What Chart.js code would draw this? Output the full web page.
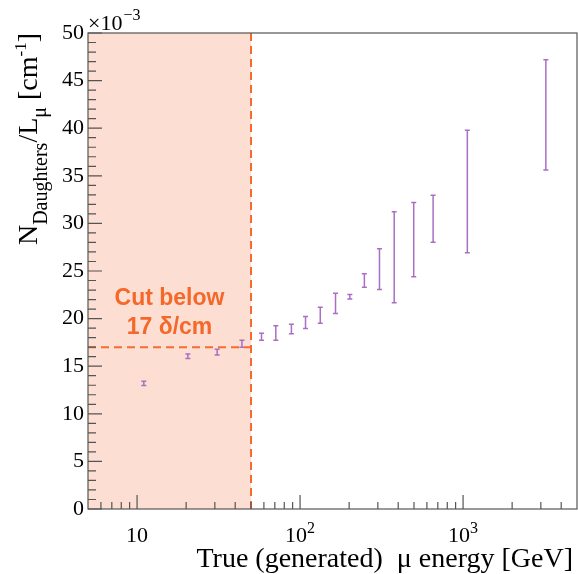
<!DOCTYPE html>
<html>
<head>
<meta charset="utf-8">
<script src="https://cdn.jsdelivr.net/npm/chart.js@4/dist/chart.umd.min.js"></script>
<style>
  body { margin: 0; background: #fff; }
  canvas { display: block; }
</style>
</head>
<body>
<canvas id="daughtersChart" width="578" height="574"></canvas>
<script>
// muon energy (GeV) of each bin, measured rate (x1e-3 per cm) and its error
const energies = [11, 20.5, 31, 44, 58, 71, 88.5, 108, 133, 165, 202, 248, 307, 378, 498, 655, 1062, 3220];
const rates    = [13.2, 16.05, 16.47, 17.35, 18.09, 18.49, 18.9, 19.6, 20.35, 21.6, 22.3, 24.0, 25.2, 26.45, 28.3, 30.5, 33.35, 41.4];
const rateErrs = [0.22, 0.23, 0.3, 0.37, 0.37, 0.77, 0.5, 0.63, 0.84, 1.07, 0.23, 0.7, 2.15, 4.78, 3.9, 2.47, 6.43, 5.8];

// cut region
const cutEnergy = 50;
const cutRate = 17;

// axis ranges and tick labels
const xMin = 5, xMax = 5000;
const yMin = 0, yMax = 50;
const xMajorTicks = [10, 100, 1000];
const xMajorBase = ['10', '10', '10'];
const xMajorExp = ['', '2', '3'];
const xMinorTicks = [6, 7, 8, 9, 20, 30, 40, 50, 60, 70, 80, 90,
  200, 300, 400, 500, 600, 700, 800, 900, 2000, 3000, 4000];

const orange = '#F4682A';
const purple = '#A96FC4';
const frameColor = '#555555';
const serif = '"Liberation Serif", "Times New Roman", serif';

Chart.defaults.font.family = serif;

const rootPlugin = {
  id: 'rootStyle',
  afterDatasetsDraw(chart) {
    const ctx = chart.ctx;
    const xs = chart.scales.x, ys = chart.scales.y;
    const a = chart.chartArea;
    ctx.save();

    // error bars
    ctx.strokeStyle = purple;
    ctx.lineWidth = 1.5;
    energies.forEach((e, i) => {
      const px = xs.getPixelForValue(e);
      const top = ys.getPixelForValue(rates[i] + rateErrs[i]);
      const bot = ys.getPixelForValue(rates[i] - rateErrs[i]);
      ctx.beginPath();
      ctx.moveTo(px, top); ctx.lineTo(px, bot);
      ctx.moveTo(px - 2.5, top); ctx.lineTo(px + 2.5, top);
      ctx.moveTo(px - 2.5, bot); ctx.lineTo(px + 2.5, bot);
      ctx.stroke();
    });

    // frame
    ctx.strokeStyle = frameColor;
    ctx.lineWidth = 1.2;
    ctx.strokeRect(a.left, a.top, a.right - a.left, a.bottom - a.top);

    // ticks inside the frame
    ctx.beginPath();
    for (let v = yMin; v <= yMax; v++) {
      const py = ys.getPixelForValue(v);
      const len = v % 5 === 0 ? 14 : 8;
      ctx.moveTo(a.left, py); ctx.lineTo(a.left + len, py);
    }
    xMajorTicks.forEach(v => {
      const px = xs.getPixelForValue(v);
      ctx.moveTo(px, a.bottom); ctx.lineTo(px, a.bottom - 14);
    });
    xMinorTicks.forEach(v => {
      const px = xs.getPixelForValue(v);
      ctx.moveTo(px, a.bottom); ctx.lineTo(px, a.bottom - 7);
    });
    ctx.stroke();

    // x tick labels with exponents
    ctx.fillStyle = '#000';
    ctx.textBaseline = 'alphabetic';
    ctx.textAlign = 'left';
    xMajorTicks.forEach((v, i) => {
      const px = xs.getPixelForValue(v);
      ctx.font = '22px ' + serif;
      const wb = ctx.measureText(xMajorBase[i]).width;
      ctx.font = '16px ' + serif;
      const we = xMajorExp[i] ? ctx.measureText(xMajorExp[i]).width : 0;
      const x0 = px - (wb + we) / 2;
      ctx.font = '22px ' + serif;
      ctx.fillText(xMajorBase[i], x0, a.bottom + 33);
      if (xMajorExp[i]) {
        ctx.font = '16px ' + serif;
        ctx.fillText(xMajorExp[i], x0 + wb, a.bottom + 24);
      }
    });

    // cut label
    const cx = xs.getPixelForValue(Math.sqrt(xMin * cutEnergy));
    const cy = ys.getPixelForValue(cutRate);
    ctx.fillStyle = orange;
    ctx.font = 'bold 23px "Liberation Sans", Arial, sans-serif';
    ctx.textAlign = 'center';
    ctx.fillText('Cut below', cx, cy - 42);
    ctx.fillText('17 \u03B4/cm', cx, cy - 13);

    // exponent above the y axis
    ctx.fillStyle = '#000';
    ctx.textAlign = 'left';
    ctx.font = '22px ' + serif;
    ctx.fillText('\u00D710', a.left, a.top - 3);
    const w10 = ctx.measureText('\u00D710').width;
    ctx.font = '16px ' + serif;
    ctx.fillText('\u22123', a.left + w10 + 1, a.top - 13);

    // x title
    ctx.font = '28px ' + serif;
    ctx.textAlign = 'right';
    ctx.fillText('True (generated)  \u03BC energy [GeV]', 573, 567);

    // y title, rotated, with sub/superscripts
    const parts = [
      ['N', 28, 0], ['Daughters', 20, 10], ['/L', 28, 0], ['\u03BC', 20, 9],
      [' [cm', 28, 0], ['-1', 17, -11], [']', 28, 0]
    ];
    let total = 0;
    parts.forEach(p => { ctx.font = p[1] + 'px ' + serif; total += ctx.measureText(p[0]).width; });
    ctx.translate(37, a.top + total);
    ctx.rotate(-Math.PI / 2);
    ctx.textAlign = 'left';
    let tx = 0;
    parts.forEach(p => {
      ctx.font = p[1] + 'px ' + serif;
      ctx.fillText(p[0], tx, p[2]);
      tx += ctx.measureText(p[0]).width;
    });
    ctx.restore();
  }
};

const points = energies.map((e, i) => ({ x: e, y: rates[i] }));

new Chart(document.getElementById('daughtersChart'), {
  type: 'scatter',
  data: {
    datasets: [
      {
        data: [{ x: xMin, y: yMax }, { x: cutEnergy, y: yMax }],
        showLine: true,
        fill: 'origin',
        backgroundColor: 'rgba(246, 125, 80, 0.25)',
        borderWidth: 0,
        pointRadius: 0
      },
      {
        data: [{ x: xMin, y: cutRate }, { x: cutEnergy, y: cutRate }],
        showLine: true,
        borderColor: orange,
        borderWidth: 2,
        borderDash: [8, 5],
        pointRadius: 0
      },
      {
        data: [{ x: cutEnergy, y: yMin }, { x: cutEnergy, y: yMax }],
        showLine: true,
        borderColor: orange,
        borderWidth: 2,
        borderDash: [8, 5],
        pointRadius: 0
      },
      {
        data: points,
        pointRadius: 0,
        borderColor: purple,
        backgroundColor: purple
      }
    ]
  },
  options: {
    responsive: false,
    devicePixelRatio: 1,
    animation: false,
    layout: { padding: { left: 0, top: 33, right: 1, bottom: 0 } },
    plugins: {
      legend: { display: false },
      tooltip: { enabled: false }
    },
    scales: {
      x: {
        type: 'logarithmic',
        min: xMin,
        max: xMax,
        afterBuildTicks: (scale) => { scale.ticks = xMajorTicks.map(v => ({ value: v })); },
        afterFit: (scale) => { scale.height = 65; },
        grid: { display: false, drawTicks: false },
        border: { display: false },
        ticks: { display: false }
      },
      y: {
        min: yMin,
        max: yMax,
        afterFit: (scale) => { scale.width = 88; },
        grid: { display: false, drawTicks: false },
        border: { display: false },
        ticks: {
          stepSize: 5,
          padding: 4,
          color: '#000',
          font: { family: serif, size: 22 }
        }
      }
    }
  },
  plugins: [rootPlugin]
});
</script>
</body>
</html>
